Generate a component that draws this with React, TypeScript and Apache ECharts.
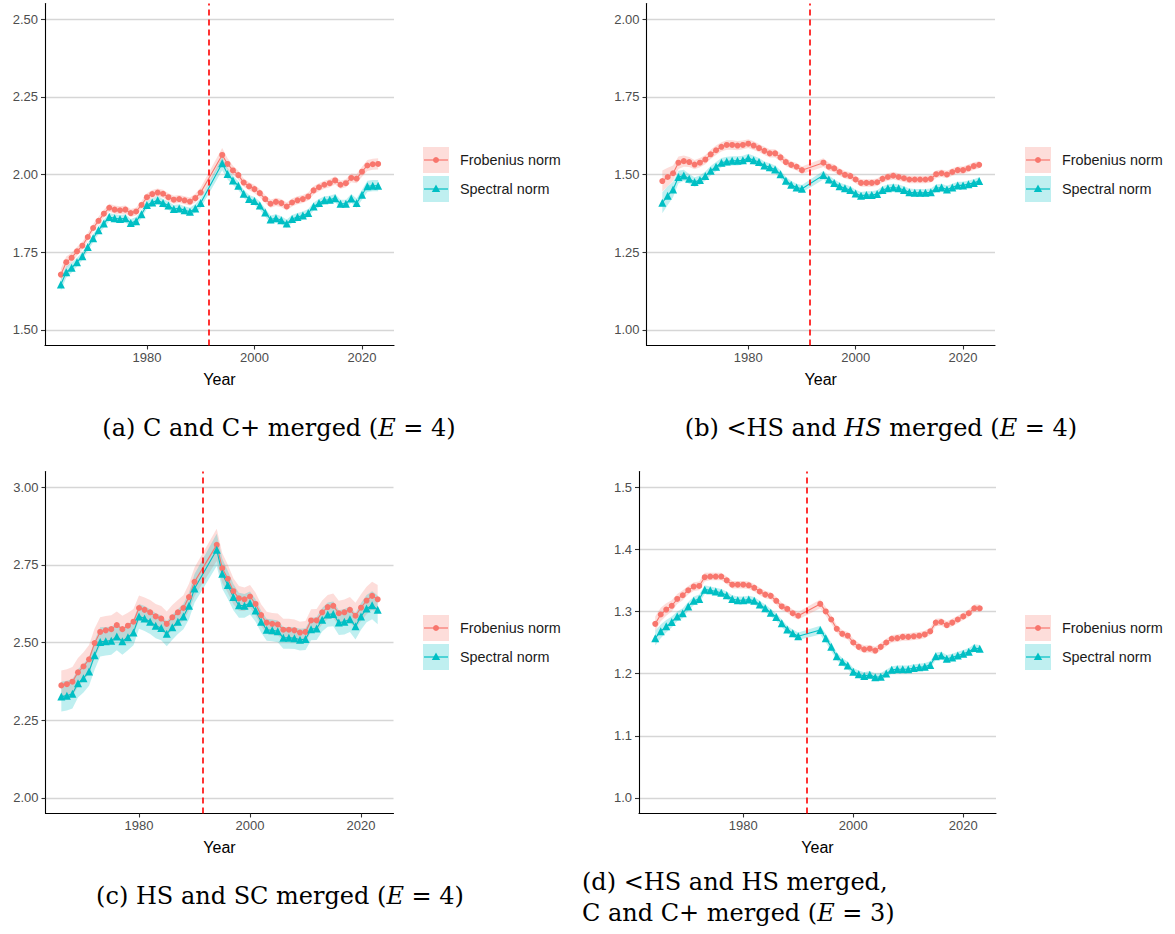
import React, { useEffect, useRef } from "react";
import * as echarts from "echarts";

// ---------- data ----------
const YEARS_ABD = [
  1964, 1965, 1966, 1967, 1968, 1969, 1970, 1971, 1972, 1973, 1974, 1975, 1976, 1977,
  1978, 1979, 1980, 1981, 1982, 1983, 1984, 1985, 1986, 1987, 1988, 1989, 1990,
  1994, 1995, 1996, 1997, 1998, 1999, 2000, 2001, 2002, 2003, 2004, 2005, 2006, 2007,
  2008, 2009, 2010, 2011, 2012, 2013, 2014, 2015, 2016, 2017, 2018, 2019, 2020, 2021,
  2022, 2023,
];
const YEARS_C = [
  1966, 1967, 1968, 1969, 1970, 1971, 1972, 1973, 1974, 1975, 1976, 1977,
  1978, 1979, 1980, 1981, 1982, 1983, 1984, 1985, 1986, 1987, 1988, 1989, 1990,
  1994, 1995, 1996, 1997, 1998, 1999, 2000, 2001, 2002, 2003, 2004, 2005, 2006, 2007,
  2008, 2009, 2010, 2011, 2012, 2013, 2014, 2015, 2016, 2017, 2018, 2019, 2020, 2021,
  2022, 2023,
];

// (a) C and C+ merged
const A_FROB = [
  1.678, 1.718, 1.732, 1.753, 1.771, 1.799, 1.828, 1.851, 1.874, 1.893, 1.887, 1.885, 1.887, 1.876,
  1.881, 1.902, 1.927, 1.937, 1.942, 1.938, 1.927, 1.919, 1.921, 1.917, 1.913, 1.924, 1.942,
  2.063, 2.034, 2.013, 1.998, 1.974, 1.962, 1.953, 1.94, 1.921, 1.906, 1.912, 1.908, 1.897, 1.91,
  1.917, 1.921, 1.929, 1.949, 1.959, 1.967, 1.972, 1.981, 1.967, 1.972, 1.989, 1.987, 2.009, 2.029,
  2.033, 2.034,
];
const A_SPEC = [
  1.646, 1.686, 1.7, 1.718, 1.737, 1.767, 1.795, 1.821, 1.842, 1.863, 1.859, 1.857, 1.859, 1.844,
  1.85, 1.872, 1.902, 1.91, 1.917, 1.908, 1.9, 1.889, 1.891, 1.885, 1.88, 1.891, 1.908,
  2.036, 2.002, 1.981, 1.964, 1.938, 1.921, 1.915, 1.9, 1.878, 1.855, 1.859, 1.853, 1.842, 1.857,
  1.863, 1.868, 1.876, 1.897, 1.908, 1.917, 1.919, 1.924, 1.906, 1.906, 1.923, 1.908, 1.935, 1.962,
  1.964, 1.964,
];
const A_CI = [
  0.02, 0.018, 0.016, 0.014, 0.013, 0.013, 0.013, 0.013, 0.013, 0.013, 0.013, 0.013, 0.013, 0.013,
  0.013, 0.013, 0.013, 0.013, 0.013, 0.013, 0.013, 0.013, 0.013, 0.013, 0.013, 0.014, 0.016,
  0.022, 0.018, 0.015, 0.014, 0.013, 0.013, 0.013, 0.013, 0.013, 0.013, 0.013, 0.013, 0.013, 0.013,
  0.013, 0.013, 0.013, 0.013, 0.013, 0.013, 0.013, 0.013, 0.013, 0.013, 0.014, 0.015, 0.016, 0.018,
  0.018, 0.018,
];

// (b) <HS and HS merged
const B_FROB = [
  1.479, 1.492, 1.504, 1.538, 1.543, 1.54, 1.532, 1.538, 1.548, 1.565, 1.578, 1.589, 1.595, 1.595,
  1.593, 1.595, 1.599, 1.593, 1.585, 1.576, 1.568, 1.568, 1.555, 1.54, 1.531, 1.525, 1.514,
  1.538, 1.525, 1.52, 1.508, 1.499, 1.495, 1.484, 1.473, 1.473, 1.473, 1.475, 1.486, 1.492, 1.496,
  1.492, 1.488, 1.484, 1.484, 1.484, 1.484, 1.486, 1.501, 1.504, 1.5, 1.508, 1.514, 1.514, 1.52,
  1.527, 1.531,
];
const B_SPEC = [
  1.409, 1.432, 1.452, 1.492, 1.497, 1.486, 1.476, 1.482, 1.495, 1.512, 1.525, 1.538, 1.542, 1.544,
  1.544, 1.546, 1.553, 1.546, 1.54, 1.529, 1.523, 1.516, 1.501, 1.48, 1.467, 1.458, 1.454,
  1.498, 1.484, 1.473, 1.462, 1.456, 1.45, 1.439, 1.432, 1.434, 1.434, 1.437, 1.45, 1.456, 1.458,
  1.456, 1.45, 1.443, 1.441, 1.441, 1.441, 1.443, 1.456, 1.458, 1.452, 1.458, 1.465, 1.465, 1.469,
  1.473, 1.479,
];
const B_CI = [
  0.034, 0.03, 0.025, 0.02, 0.018, 0.016, 0.015, 0.015, 0.015, 0.015, 0.015, 0.015, 0.015, 0.015,
  0.015, 0.014, 0.014, 0.014, 0.013, 0.013, 0.013, 0.013, 0.013, 0.013, 0.012, 0.012, 0.012,
  0.014, 0.013, 0.012, 0.012, 0.012, 0.012, 0.012, 0.012, 0.012, 0.012, 0.012, 0.012, 0.012, 0.012,
  0.012, 0.012, 0.012, 0.012, 0.012, 0.012, 0.012, 0.012, 0.012, 0.012, 0.012, 0.012, 0.012, 0.012,
  0.012, 0.012,
];

// (c) HS and SC merged
const C_FROB = [
  2.362, 2.366, 2.374, 2.404, 2.423, 2.446, 2.498, 2.534, 2.539, 2.543, 2.556, 2.543,
  2.554, 2.567, 2.611, 2.605, 2.597, 2.584, 2.577, 2.56, 2.581, 2.597, 2.611, 2.646, 2.695,
  2.814, 2.739, 2.705, 2.665, 2.642, 2.639, 2.648, 2.624, 2.588, 2.564, 2.56, 2.558, 2.541, 2.541,
  2.539, 2.532, 2.534, 2.571, 2.571, 2.597, 2.614, 2.618, 2.594, 2.597, 2.605, 2.586, 2.612, 2.635,
  2.65, 2.639,
];
const C_SPEC = [
  2.326, 2.329, 2.335, 2.369, 2.385, 2.407, 2.459, 2.502, 2.504, 2.506, 2.519, 2.504,
  2.517, 2.532, 2.584, 2.577, 2.567, 2.554, 2.547, 2.528, 2.549, 2.567, 2.584, 2.618, 2.674,
  2.798, 2.721, 2.685, 2.646, 2.62, 2.618, 2.627, 2.603, 2.567, 2.541, 2.539, 2.536, 2.515, 2.515,
  2.514, 2.509, 2.511, 2.543, 2.545, 2.573, 2.59, 2.592, 2.564, 2.567, 2.575, 2.552, 2.584, 2.609,
  2.62, 2.605,
];
const C_CI = [
  0.048, 0.048, 0.047, 0.046, 0.046, 0.046, 0.047, 0.047, 0.046, 0.045, 0.044, 0.043,
  0.042, 0.041, 0.04, 0.04, 0.04, 0.04, 0.04, 0.04, 0.04, 0.04, 0.041, 0.043, 0.046,
  0.052, 0.048, 0.045, 0.042, 0.04, 0.038, 0.037, 0.036, 0.035, 0.035, 0.035, 0.035, 0.035, 0.035,
  0.035, 0.035, 0.035, 0.036, 0.037, 0.038, 0.039, 0.04, 0.04, 0.041, 0.041, 0.042, 0.043, 0.044,
  0.045, 0.046,
];

// (d) <HS and HS merged, C and C+ merged
const D_FROB = [
  1.28, 1.295, 1.303, 1.309, 1.32, 1.326, 1.334, 1.34, 1.341, 1.355, 1.356, 1.356, 1.356, 1.35,
  1.343, 1.343, 1.343, 1.342, 1.338, 1.332, 1.327, 1.325, 1.317, 1.308, 1.304, 1.297, 1.293,
  1.312, 1.3, 1.287, 1.272, 1.264, 1.261, 1.25, 1.243, 1.239, 1.24, 1.237, 1.243, 1.25, 1.256,
  1.257, 1.259, 1.259, 1.26, 1.261, 1.263, 1.268, 1.282, 1.283, 1.278, 1.282, 1.287, 1.292, 1.297,
  1.305, 1.305,
];
const D_SPEC = [
  1.257, 1.268, 1.276, 1.283, 1.292, 1.297, 1.308, 1.317, 1.32, 1.335, 1.334, 1.332, 1.33, 1.326,
  1.32, 1.318, 1.318, 1.319, 1.317, 1.311, 1.305, 1.298, 1.291, 1.281, 1.271, 1.265, 1.26,
  1.27, 1.257, 1.243, 1.228, 1.219, 1.213, 1.203, 1.199, 1.196, 1.198, 1.194, 1.195, 1.2, 1.206,
  1.207, 1.207, 1.207, 1.209, 1.21, 1.211, 1.214, 1.228, 1.229, 1.224, 1.226, 1.229, 1.232, 1.235,
  1.241, 1.24,
];
const D_CI = [
  0.012, 0.011, 0.01, 0.009, 0.008, 0.008, 0.007, 0.007, 0.007, 0.007, 0.006, 0.006, 0.006, 0.006,
  0.006, 0.006, 0.006, 0.006, 0.006, 0.006, 0.006, 0.006, 0.006, 0.006, 0.006, 0.006, 0.006,
  0.007, 0.007, 0.007, 0.006, 0.006, 0.006, 0.006, 0.006, 0.006, 0.006, 0.006, 0.006, 0.006, 0.006,
  0.006, 0.006, 0.006, 0.006, 0.006, 0.006, 0.006, 0.006, 0.006, 0.006, 0.006, 0.006, 0.006, 0.006,
  0.006, 0.006,
];

const X_TICKS = [1980, 2000, 2020];
const A_Y_TICKS = [1.5, 1.75, 2.0, 2.25, 2.5];
const B_Y_TICKS = [1.0, 1.25, 1.5, 1.75, 2.0];
const C_Y_TICKS = [2.0, 2.25, 2.5, 2.75, 3.0];
const D_Y_TICKS = [1.0, 1.1, 1.2, 1.3, 1.4, 1.5];
const VLINE_YEAR = 1991.5;
const SERIES_NAMES = ["Frobenius norm", "Spectral norm"];
const X_TITLE = "Year";

// ---------- style ----------
const PINK = "#F8766D";
const TEAL = "#00BFC4";
const PINK_FILL = "rgba(248,118,109,0.25)";
const TEAL_FILL = "rgba(0,191,196,0.25)";
const SANS = "'Liberation Sans', Arial, Helvetica, sans-serif";
const SERIF = "'DejaVu Serif', serif";
const CAP_SIZE = 24;

const PANELS = [
  {
    years: YEARS_ABD, frob: A_FROB, spec: A_SPEC, ci: A_CI, yTicks: A_Y_TICKS,
    yMin: 1.45, yMax: 2.55, dec: 2, xMin: 1961.05, xMax: 2025.95,
    grid: { left: 45, top: 3.5, width: 349, height: 342 }, legend: [423, 147],
  },
  {
    years: YEARS_ABD, frob: B_FROB, spec: B_SPEC, ci: B_CI, yTicks: B_Y_TICKS,
    yMin: 0.95, yMax: 2.05, dec: 2, xMin: 1961.05, xMax: 2025.95,
    grid: { left: 646.5, top: 3.5, width: 348.5, height: 342 }, legend: [1025, 147],
  },
  {
    years: YEARS_C, frob: C_FROB, spec: C_SPEC, ci: C_CI, yTicks: C_Y_TICKS,
    yMin: 1.95, yMax: 3.05, dec: 2, xMin: 1963.15, xMax: 2025.85,
    grid: { left: 45.5, top: 471.5, width: 348, height: 342 }, legend: [423, 615],
  },
  {
    years: YEARS_ABD, frob: D_FROB, spec: D_SPEC, ci: D_CI, yTicks: D_Y_TICKS,
    yMin: 0.975, yMax: 1.525, dec: 1, xMin: 1961.05, xMax: 2025.95,
    grid: { left: 639, top: 471.5, width: 357, height: 342 }, legend: [1025, 615],
  },
];

function bandSeries(i: number, years: number[], vals: number[], ci: number[], fill: string) {
  const lo = vals.map((v, k) => v - ci[k]);
  const hi = vals.map((v, k) => v + ci[k]);
  return {
    type: "custom",
    xAxisIndex: i,
    yAxisIndex: i,
    silent: true,
    z: 1,
    clip: true,
    data: years.map((y, k) => [y, lo[k], hi[k]]),
    encode: { x: 0, y: [1, 2] },
    renderItem: (params: any, api: any) => {
      if (params.dataIndex !== 0) return null;
      const pts: number[][] = [];
      for (let k = 0; k < years.length; k++) pts.push(api.coord([years[k], lo[k]]));
      for (let k = years.length - 1; k >= 0; k--) pts.push(api.coord([years[k], hi[k]]));
      return { type: "polygon", shape: { points: pts }, style: { fill } };
    },
  };
}

function legendElems(x: number, y: number) {
  const els: any[] = [];
  const keys = [
    { fill: PINK_FILL, color: PINK, tri: false, label: SERIES_NAMES[0] },
    { fill: TEAL_FILL, color: TEAL, tri: true, label: SERIES_NAMES[1] },
  ];
  keys.forEach((k, j) => {
    const ky = y + j * 29;
    const cy = ky + 13;
    els.push({ type: "rect", shape: { x, y: ky, width: 26, height: 26 }, style: { fill: k.fill }, silent: true });
    els.push({ type: "line", shape: { x1: x + 1, y1: cy, x2: x + 25, y2: cy }, style: { stroke: k.color, lineWidth: 1.2 }, silent: true });
    if (k.tri) {
      els.push({ type: "polygon", shape: { points: [[x + 13, cy - 4.5], [x + 8.8, cy + 3], [x + 17.2, cy + 3]] }, style: { fill: k.color }, silent: true });
    } else {
      els.push({ type: "circle", shape: { cx: x + 13, cy, r: 3 }, style: { fill: k.color }, silent: true });
    }
    els.push({
      type: "text", x: x + 37, y: cy, silent: true,
      style: { text: k.label, fill: "#1A1A1A", fontSize: 14.4, fontFamily: SANS, verticalAlign: "middle", align: "left" },
    });
  });
  return els;
}

function caption(text: string, x: number, y: number, align: string) {
  return {
    type: "text", x, y, silent: true,
    style: {
      text, fill: "#000", fontSize: CAP_SIZE, fontFamily: SERIF, align, verticalAlign: "middle",
      rich: { i: { fontStyle: "italic", fontSize: CAP_SIZE, fontFamily: SERIF, fill: "#000" } },
    },
  };
}

export default function App() {
  const ref = useRef<HTMLDivElement>(null);
  useEffect(() => {
    document.body.style.margin = "0";
    if (!ref.current) return;
    const chart = echarts.init(ref.current, undefined, { renderer: "svg" });
    const grids: any[] = [];
    const xAxes: any[] = [];
    const yAxes: any[] = [];
    const series: any[] = [];
    const graphics: any[] = [];
    PANELS.forEach((p, i) => {
      grids.push({ ...p.grid, containLabel: false });
      xAxes.push({
        type: "value", gridIndex: i, min: p.xMin, max: p.xMax,
        axisLine: { show: true, onZero: false, lineStyle: { color: "#000", width: 1.1 } },
        axisTick: { show: true, length: 4, customValues: X_TICKS, lineStyle: { color: "#333", width: 1.1 } },
        axisLabel: { customValues: X_TICKS, color: "#4D4D4D", fontSize: 13, fontFamily: SANS, margin: 5, formatter: (v: number) => String(v) },
        splitLine: { show: false },
        name: X_TITLE, nameLocation: "middle", nameGap: 26,
        nameTextStyle: { color: "#000", fontSize: 16, fontFamily: SANS },
      });
      yAxes.push({
        type: "value", gridIndex: i, min: p.yMin, max: p.yMax,
        axisLine: { show: true, onZero: false, lineStyle: { color: "#000", width: 1.1 } },
        axisTick: { show: true, length: 4, customValues: p.yTicks, lineStyle: { color: "#333", width: 1.1 } },
        axisLabel: { customValues: p.yTicks, color: "#4D4D4D", fontSize: 13, fontFamily: SANS, margin: 7, formatter: (v: number) => v.toFixed(p.dec) },
        splitLine: { show: true, lineStyle: { color: "#D6D6D6", width: 1.3 } },
      });
      series.push(bandSeries(i, p.years, p.frob, p.ci, PINK_FILL));
      series.push(bandSeries(i, p.years, p.spec, p.ci, TEAL_FILL));
      series.push({
        type: "line", name: SERIES_NAMES[0], xAxisIndex: i, yAxisIndex: i, z: 3,
        data: p.years.map((y, k) => [y, p.frob[k]]),
        symbol: "circle", symbolSize: 6, showAllSymbol: true,
        itemStyle: { color: PINK }, lineStyle: { color: PINK, width: 1.1 },
        markLine: {
          silent: true, symbol: ["none", "none"], label: { show: false },
          lineStyle: { color: "#FF0000", type: [6, 4], width: 1.6 },
          data: [{ xAxis: VLINE_YEAR }],
        },
      });
      series.push({
        type: "line", name: SERIES_NAMES[1], xAxisIndex: i, yAxisIndex: i, z: 3,
        data: p.years.map((y, k) => [y, p.spec[k]]),
        symbol: "triangle", symbolSize: 8, showAllSymbol: true,
        itemStyle: { color: TEAL }, lineStyle: { color: TEAL, width: 1.1 },
      });
      graphics.push(...legendElems(p.legend[0], p.legend[1]));
    });
    graphics.push(caption("(a) C and C+ merged ({i|E} = 4)", 279, 428, "center"));
    graphics.push(caption("(b) <HS and {i|HS} merged ({i|E} = 4)", 881, 428, "center"));
    graphics.push(caption("(c) HS and SC merged ({i|E} = 4)", 280, 896, "center"));
    graphics.push(caption("(d) <HS and HS merged,", 582, 882, "left"));
    graphics.push(caption("C and C+ merged ({i|E} = 3)", 582, 913, "left"));

    chart.setOption({
      animation: false,
      backgroundColor: "#fff",
      grid: grids,
      xAxis: xAxes,
      yAxis: yAxes,
      series,
      graphic: graphics,
    });
    return () => chart.dispose();
  }, []);
  return <div ref={ref} style={{ width: 1175, height: 934 }} />;
}
